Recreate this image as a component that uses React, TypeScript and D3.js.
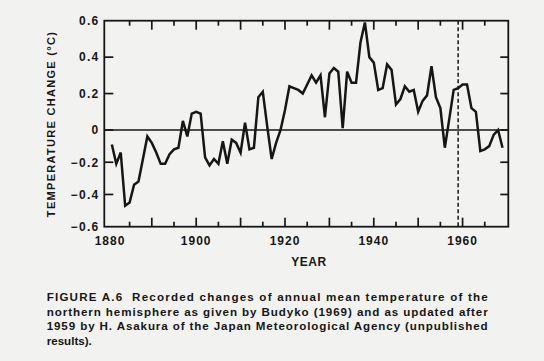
import * as d3 from "d3";

// one value per year from 1881 to 1969
const years = d3.range(1881, 1970);
const tempChange = [
  -0.09, -0.21, -0.14, -0.47, -0.45, -0.34, -0.32, -0.18, -0.04, -0.08,
  -0.14, -0.21, -0.21, -0.15, -0.12, -0.11, 0.05, -0.04, 0.09, 0.1,
  0.09, -0.17, -0.22, -0.18, -0.21, -0.07, -0.21, -0.06, -0.08, -0.14,
  0.04, -0.12, -0.11, 0.18, 0.21, 0.02, -0.18, -0.08, 0.0, 0.11,
  0.24, 0.23, 0.22, 0.2, 0.25, 0.3, 0.26, 0.3, 0.07, 0.31,
  0.34, 0.32, 0.01, 0.32, 0.26, 0.26, 0.48, 0.59, 0.4, 0.37,
  0.22, 0.23, 0.36, 0.33, 0.14, 0.17, 0.24, 0.21, 0.22, 0.1,
  0.16, 0.19, 0.35, 0.18, 0.12, -0.11, 0.06, 0.22, 0.23, 0.25,
  0.25, 0.12, 0.1, -0.13, -0.12, -0.1, -0.03, 0.0, -0.11,
];

const xTickYears = d3.range(1885, 1970, 5);
const xLabelYears = [1880, 1900, 1920, 1940, 1960];
const yTicks = [-0.6, -0.4, -0.2, 0, 0.2, 0.4, 0.6];
const yLabels = ["−0.6", "−0.4", "−0.2", "0", "0.2", "0.4", "0.6"];
const updateYear = 1959;

const captionLines = [
  "FIGURE A.6  Recorded changes of annual mean temperature of the",
  "northern hemisphere as given by Budyko (1969) and as updated after",
  "1959 by H. Asakura of the Japan Meteorological Agency (unpublished",
  "results).",
];

const W = 544;
const H = 361;
const left = 104.3;
const right = 508.3;
const top = 20.7;
const bottom = 226.7;
const ink = "#161616";
const font = "'Liberation Sans', Arial, sans-serif";

export default function App() {
  const x = d3.scaleLinear().domain([1879.3, 1970.3]).range([left, right]);
  // the printed axis is not evenly spaced: the lower half is squeezed
  const y = d3.scaleLinear().domain([-0.6, 0, 0.6]).range([bottom, 130, top]);

  const line = d3
    .line<number>()
    .x((_, i) => x(years[i]))
    .y((d) => y(d));

  return (
    <svg
      width={W}
      height={H}
      style={{ position: "absolute", left: 0, top: 0 }}
      fontFamily={font}
    >
      <rect width={W} height={H} fill="#f2f2f0" />

      {/* ticks on all four sides, pointing inward */}
      {xTickYears.map((yr) => {
        const len = yr % 10 === 0 ? 9 : 5;
        return (
          <g key={yr} stroke={ink} strokeWidth={1.7}>
            <line x1={x(yr)} x2={x(yr)} y1={top} y2={top + len} />
            <line x1={x(yr)} x2={x(yr)} y1={bottom} y2={bottom - len} />
          </g>
        );
      })}
      {yTicks.slice(1, -1).map((t) => (
        <g key={t} stroke={ink} strokeWidth={1.7}>
          <line x1={left} x2={left + 9} y1={y(t)} y2={y(t)} />
          <line x1={right} x2={right - 8} y1={y(t)} y2={y(t)} />
        </g>
      ))}

      <line x1={left} x2={right} y1={y(0)} y2={y(0)} stroke={ink} strokeWidth={1.5} />
      <line
        x1={x(updateYear)}
        x2={x(updateYear)}
        y1={top}
        y2={bottom}
        stroke={ink}
        strokeWidth={1.5}
        strokeDasharray="4,2.5"
      />

      <path
        d={line(tempChange) ?? ""}
        fill="none"
        stroke={ink}
        strokeWidth={2.5}
        strokeLinejoin="miter"
      />

      <rect
        x={left}
        y={top}
        width={right - left}
        height={bottom - top}
        fill="none"
        stroke={ink}
        strokeWidth={1.8}
      />

      {yTicks.map((t, i) => (
        <text
          key={t}
          x={99.5}
          y={y(t)}
          dy="0.36em"
          textAnchor="end"
          fontSize={12}
          fontWeight="bold"
          letterSpacing={1.3}
          fill={ink}
        >
          {yLabels[i]}
        </text>
      ))}
      {xLabelYears.map((yr) => (
        <text
          key={yr}
          x={yr === 1880 ? 110 : x(yr)}
          y={244.5}
          textAnchor="middle"
          fontSize={12}
          fontWeight="bold"
          letterSpacing={1}
          fill={ink}
        >
          {yr}
        </text>
      ))}

      <text x={309} y={266} textAnchor="middle" fontSize={12} fontWeight="bold" letterSpacing={0.6} fill={ink}>
        YEAR
      </text>
      <text
        transform="translate(55,124) rotate(-90)"
        textAnchor="middle"
        fontSize={11}
        fontWeight="bold"
        letterSpacing={1.3}
        fill={ink}
      >
        TEMPERATURE CHANGE (°C)
      </text>

      {captionLines.map((s, i) => (
        <text
          key={i}
          x={46.7}
          y={301 + i * 14.5}
          fontSize={11.6}
          fontWeight="bold"
          fill={ink}
          xmlSpace="preserve"
          textLength={i < 3 ? 441 : undefined}
          lengthAdjust="spacing"
        >
          {s}
        </text>
      ))}
    </svg>
  );
}
